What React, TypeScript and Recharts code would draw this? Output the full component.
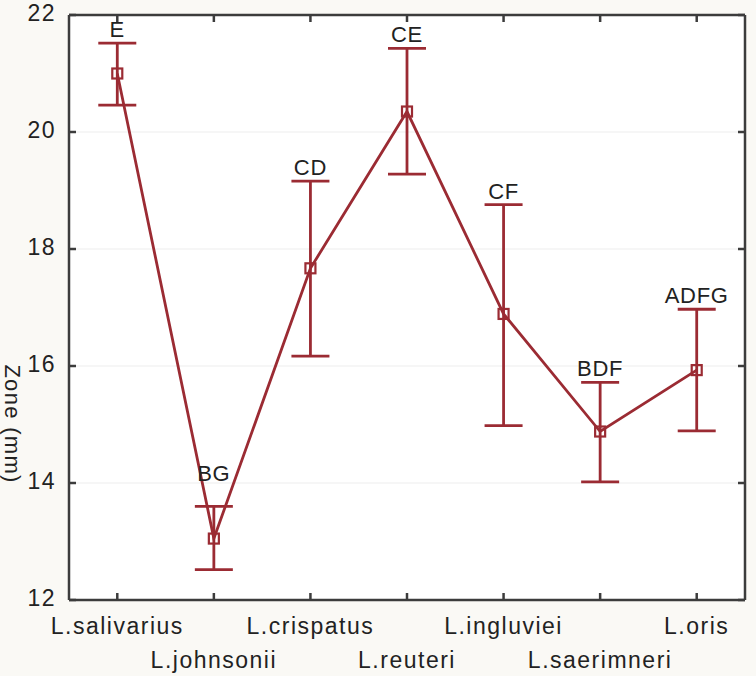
import React from 'react';
import { ComposedChart, Line, XAxis, YAxis, CartesianGrid, ErrorBar, LabelList, Label } from 'recharts';

const categories = ['L.salivarius', 'L.johnsonii', 'L.crispatus', 'L.reuteri', 'L.ingluviei', 'L.saerimneri', 'L.oris'];
const means = [21.0, 13.05, 17.67, 20.35, 16.89, 14.88, 15.93];
const lowers = [20.46, 12.52, 16.17, 19.28, 14.98, 14.02, 14.89];
const uppers = [21.52, 13.6, 19.16, 21.43, 18.76, 15.72, 16.97];
const letters = ['E', 'BG', 'CD', 'CE', 'CF', 'BDF', 'ADFG'];
const yTicks = [12, 14, 16, 18, 20, 22];

const data = categories.map((name, i) => ({
  name,
  mean: means[i],
  upper: uppers[i],
  err: [means[i] - lowers[i], uppers[i] - means[i]],
  letter: letters[i],
}));

const RED = '#9b2b33';
const AXIS = '#3c3c3c';
const TEXT = '#222222';
const FONT = '"Liberation Sans", Arial, sans-serif';

const XTick = (props: any) => {
  const { x, y, payload, index } = props;
  const dy = index % 2 === 0 ? 34 : 68;
  return (
    <text x={x} y={y} dy={dy} textAnchor="middle" fill={TEXT} fontSize={23} fontFamily={FONT} letterSpacing={1.5}>
      {payload.value}
    </text>
  );
};

const YTick = (props: any) => {
  const { x, y, payload } = props;
  return (
    <text x={x} y={y} dy={6} textAnchor="end" fill={TEXT} fontSize={23} fontFamily={FONT} letterSpacing={1.5}>
      {payload.value}
    </text>
  );
};

const EmptyTick = () => <g />;

const SquareDot = (props: any) => {
  const { cx, cy, index } = props;
  if (cx == null || cy == null) return <g key={index} />;
  return <rect key={index} x={cx - 5} y={cy - 5} width={10} height={10} fill="none" stroke={RED} strokeWidth={2.2} />;
};

const labelGap: Record<string, number> = { BG: 25 };

const LetterLabel = (props: any) => {
  const { x, y, value } = props;
  const gap = labelGap[value] ?? 6;
  return (
    <text x={x} y={y - gap} textAnchor="middle" fill={TEXT} fontSize={22} fontFamily={FONT} letterSpacing={0.7}>
      {value}
    </text>
  );
};

const YLabel = () => (
  <text x={12} y={424} transform="rotate(90, 12, 424)" textAnchor="middle" dominantBaseline="central" fill={TEXT} fontSize={22} fontFamily={FONT} letterSpacing={1.3}>
    Zone (mm)
  </text>
);

const axisLine = { stroke: AXIS, strokeWidth: 2.5 };
const tickLine = { stroke: AXIS, strokeWidth: 2.5 };

export default function App() {
  return (
    <div style={{ position: 'absolute', left: 0, top: 0, width: 756, height: 676, background: '#faf9f5' }}>
      <ComposedChart width={756} height={676} data={data} margin={{ top: 13, right: 9, bottom: 0, left: 0 }}>
        <CartesianGrid horizontal vertical={false} stroke="#ededed" fill="#ffffff" />
        <XAxis
          dataKey="name"
          type="category"
          scale="band"
          interval={0}
          height={76}
          axisLine={axisLine}
          tickLine={tickLine}
          tickSize={-7}
          tickMargin={7}
          tick={XTick}
        />
        <XAxis
          xAxisId="t"
          orientation="top"
          dataKey="name"
          type="category"
          scale="band"
          interval={0}
          height={2}
          axisLine={axisLine}
          tickLine={tickLine}
          tickSize={-7}
          tickMargin={0}
          tick={EmptyTick}
        />
        <YAxis
          type="number"
          domain={[12, 22]}
          ticks={yTicks}
          interval={0}
          allowDataOverflow
          width={69}
          axisLine={axisLine}
          tickLine={tickLine}
          tickSize={-7}
          tickMargin={20}
          tick={YTick}
        >
          <Label content={YLabel} />
        </YAxis>
        <YAxis
          yAxisId="r"
          orientation="right"
          type="number"
          domain={[12, 22]}
          ticks={yTicks}
          interval={0}
          allowDataOverflow
          width={2}
          axisLine={axisLine}
          tickLine={tickLine}
          tickSize={-7}
          tickMargin={0}
          tick={EmptyTick}
        />
        <Line
          dataKey="mean"
          stroke={RED}
          strokeWidth={2.8}
          dot={SquareDot}
          activeDot={false}
          isAnimationActive={false}
        >
          <ErrorBar dataKey="err" direction="y" width={19} stroke={RED} strokeWidth={2.8} isAnimationActive={false} />
        </Line>
        <Line
          xAxisId="t"
          yAxisId="r"
          dataKey="upper"
          stroke="none"
          dot={false}
          activeDot={false}
          legendType="none"
          isAnimationActive={false}
        >
          <LabelList dataKey="letter" content={LetterLabel} />
        </Line>
      </ComposedChart>
    </div>
  );
}
